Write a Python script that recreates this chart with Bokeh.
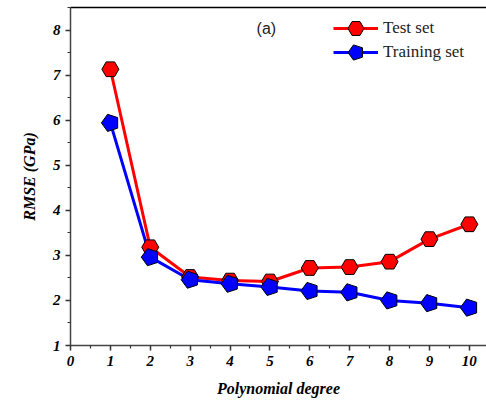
import math
from bokeh.plotting import figure
from bokeh.models import (ColumnDataSource, Legend, LegendItem, Label,
                          FixedTicker, Span, LinearAxis)
from bokeh.embed import file_html
from bokeh.resources import INLINE

degree = [1, 2, 3, 4, 5, 6, 7, 8, 9, 10]
test_rmse = [7.13, 3.18, 2.52, 2.44, 2.42, 2.72, 2.74, 2.86, 3.36, 3.69]
train_rmse = [5.94, 2.96, 2.46, 2.37, 2.30, 2.21, 2.18, 2.00, 1.94, 1.84]
x_ticks = [0, 1, 2, 3, 4, 5, 6, 7, 8, 9, 10]
y_ticks = [1, 2, 3, 4, 5, 6, 7, 8]

src = ColumnDataSource(dict(x=degree, test=test_rmse, train=train_rmse))

Y_END = 8.5
p = figure(width=486, height=403, output_backend="svg", toolbar_location=None,
           x_range=(0, 10.43), y_range=(1, Y_END),
           min_border_left=70, min_border_right=0, min_border_top=7,
           min_border_bottom=58)
p.outline_line_color = None
p.grid.visible = False
p.background_fill_color = "white"
p.border_fill_color = "white"

serif = "Times New Roman"
for ax in (p.xaxis[0], p.yaxis[0]):
    ax.axis_line_color = "#444444"
    ax.axis_line_width = 1.5
    ax.major_tick_line_color = "#333333"
    ax.minor_tick_line_color = "#333333"
    ax.major_tick_line_width = 1.5
    ax.minor_tick_line_width = 1.2
    ax.major_tick_in = 0
    ax.major_tick_out = 5
    ax.minor_tick_in = 0
    ax.minor_tick_out = 3
    ax.major_label_text_font = serif
    ax.major_label_text_font_style = "bold italic"
    ax.major_label_text_font_size = "15px"
    ax.major_label_text_color = "black"
    ax.axis_label_text_font = serif
    ax.axis_label_text_font_style = "bold italic"
    ax.axis_label_text_font_size = "16px"
    ax.axis_label_text_color = "black"

p.xaxis.ticker = FixedTicker(ticks=x_ticks,
                             minor_ticks=[t + 0.5 for t in x_ticks])
p.yaxis.ticker = FixedTicker(ticks=y_ticks,
                             minor_ticks=[t + 0.5 for t in y_ticks])
p.xaxis.axis_label = "Polynomial degree"
p.yaxis.axis_label = "RMSE (GPa)"
p.xaxis.major_label_standoff = 5
p.yaxis.major_label_standoff = 5
p.xaxis.axis_label_standoff = 11
p.yaxis.axis_label_standoff = 12

# top frame edge drawn as an axis line without ticks or labels
top_axis = LinearAxis(ticker=FixedTicker(ticks=x_ticks, minor_ticks=[]),
                      axis_line_color="black", axis_line_width=1.5,
                      major_tick_in=0, major_tick_out=0,
                      minor_tick_in=0, minor_tick_out=0,
                      major_label_text_alpha=0,
                      major_label_text_font_size="1px",
                      major_label_standoff=0)
p.add_layout(top_axis, "above")

l_test = p.line("x", "test", source=src, line_color="#ff0000", line_width=3)
l_train = p.line("x", "train", source=src, line_color="#0000ff", line_width=3)
m_test = p.scatter("x", "test", source=src, marker="hex", size=17,
                   fill_color="#ff0000", line_color="black", line_width=1)
m_train = p.scatter("x", "train", source=src, marker="triangle", size=1,
                    fill_alpha=0, line_alpha=0)
m_train_pent = p.ngon("x", "train", source=src, radius=9, radius_units="screen",
                      n=5, angle=math.pi / 2,
                      fill_color="#0000ff", line_color="black", line_width=1)


def make_legend(label, renderers, loc):
    lg = Legend(items=[LegendItem(label=label, renderers=renderers)],
                location=loc, orientation="vertical")
    lg.glyph_width = 45
    lg.glyph_height = 40
    lg.label_height = 20
    lg.spacing = 0
    lg.padding = 0
    lg.margin = 0
    lg.label_standoff = 5
    lg.border_line_color = None
    lg.background_fill_alpha = 0
    lg.label_text_font = serif
    lg.label_text_font_size = "17px"
    lg.label_text_color = "#222222"
    return lg


p.add_layout(make_legend("Test set", [l_test, m_test], (263, 297)))
p.add_layout(make_legend("Training set", [l_train, m_train_pent], (263, 273)))

p.add_layout(Label(x=4.91, y=8.04, text="(a)", text_font="Liberation Sans",
                   text_font_size="16px", text_align="center",
                   text_baseline="middle", text_color="#222222"))

open("out.html", "w").write(file_html(p, INLINE))
